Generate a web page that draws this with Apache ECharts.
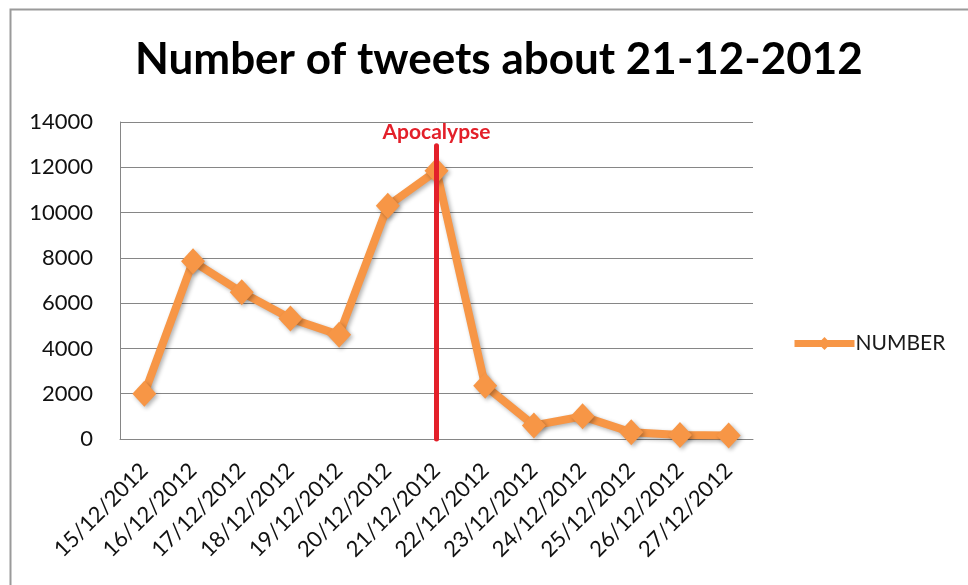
<!DOCTYPE html>
<html><head><meta charset="utf-8">
<script src="https://cdn.jsdelivr.net/npm/echarts@6/dist/echarts.min.js"></script>
<style>html,body{margin:0;padding:0;background:#fff}#c{width:968px;height:585px}</style>
</head><body><div id="c"></div>
<script>
const categories = ['15/12/2012','16/12/2012','17/12/2012','18/12/2012','19/12/2012','20/12/2012','21/12/2012','22/12/2012','23/12/2012','24/12/2012','25/12/2012','26/12/2012','27/12/2012'];
const tweetCounts = [2000, 7850, 6480, 5320, 4600, 10300, 11850, 2350, 600, 1000, 300, 180, 150];
const seriesName = 'NUMBER';
const yMin = 0, yMax = 14000, yInterval = 2000;
const eventCategory = '21/12/2012';
const eventLabel = 'Apocalypse';
const eventTop = 12950, eventBottom = 0;

const chart = echarts.init(document.getElementById('c'));
const font = 'Lato, "Open Sans", sans-serif';
chart.setOption({
  animation: false,
  backgroundColor: '#fff',
  graphic: [{
    type: 'rect', left: 8, top: 7, silent: true, z: -1,
    shape: { width: 1100, height: 700 },
    style: { fill: 'none', stroke: '#9a9a9a', lineWidth: 2 }
  }],
  title: {
    text: 'Number of tweets about 21-12-2012',
    left: 130, top: 33,
    textStyle: { fontFamily: font, fontWeight: 'bold', fontSize: 44, color: '#000' }
  },
  legend: {
    data: [seriesName], left: 786, top: 328, orient: 'vertical',
    itemWidth: 60, itemHeight: 16, itemGap: 4,
    lineStyle: { width: 7 },
    textStyle: { fontFamily: font, fontSize: 21, color: '#1a1a1a', padding: [0, 0, 0, -4] }
  },
  grid: { left: 120, right: 215, top: 122, bottom: 146, containLabel: false },
  xAxis: {
    type: 'category', data: categories, boundaryGap: true,
    axisLine: { show: true, lineStyle: { color: '#868686', width: 1 } },
    axisTick: { show: false },
    axisLabel: { rotate: 45, margin: 28, interval: 0, fontFamily: font, fontSize: 22, color: '#111' }
  },
  yAxis: {
    type: 'value', min: yMin, max: yMax, interval: yInterval,
    axisLine: { show: true, lineStyle: { color: '#868686', width: 1 } },
    axisTick: { show: false },
    splitLine: { show: true, lineStyle: { color: '#868686', width: 1 } },
    axisLabel: { margin: 27, formatter: v => String(v), fontFamily: font, fontSize: 22, color: '#111' }
  },
  series: [{
    name: seriesName, type: 'line', data: tweetCounts,
    symbol: 'diamond', symbolSize: [24, 26], clip: false,
    itemStyle: { color: '#F79646', shadowBlur: 4, shadowColor: 'rgba(0,0,0,0.3)', shadowOffsetX: 2, shadowOffsetY: 2 },
    lineStyle: { color: '#F79646', width: 8, shadowBlur: 4, shadowColor: 'rgba(0,0,0,0.3)', shadowOffsetX: 2, shadowOffsetY: 2 },
    markLine: {
      silent: true, symbol: ['none', 'none'], animation: false,
      lineStyle: { color: '#E3202A', width: 5, type: 'solid', cap: 'round' },
      label: { show: true, position: 'end', formatter: eventLabel, color: '#E3202A', fontFamily: font, fontWeight: 'bold', fontSize: 21, distance: 3 },
      data: [[{ coord: [eventCategory, eventBottom] }, { coord: [eventCategory, eventTop] }]]
    }
  }]
});
</script></body></html>
